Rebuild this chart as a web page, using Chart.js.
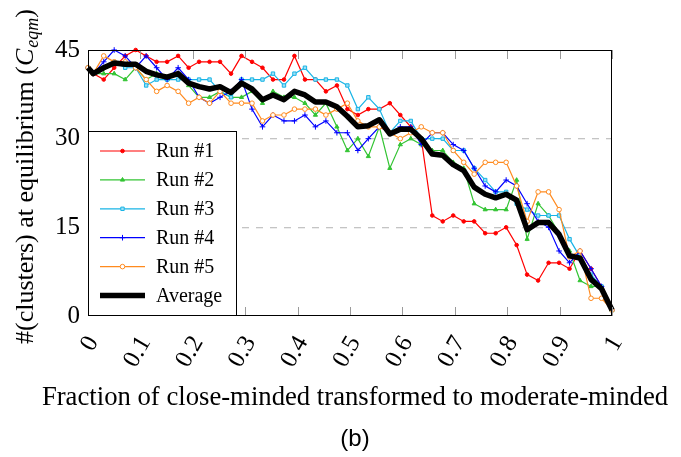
<!DOCTYPE html>
<html>
<head>
<meta charset="utf-8">
<script src="https://cdn.jsdelivr.net/npm/chart.js@4.4.1/dist/chart.umd.min.js"></script>
<style>
  html, body { margin: 0; padding: 0; background: #fff; }
  #wrap { width: 681px; height: 457px; }
</style>
</head>
<body>
<div id="wrap"><canvas id="chart" width="681" height="457"></canvas></div>
<script>
// x-positions of the runs (fraction transformed)
const xValues = [0, 0.010, 0.030, 0.050, 0.071, 0.091, 0.111, 0.131, 0.151, 0.172, 0.192,
  0.212, 0.232, 0.252, 0.273, 0.293, 0.313, 0.333, 0.353, 0.374, 0.394,
  0.414, 0.434, 0.454, 0.475, 0.495, 0.515, 0.535, 0.556, 0.576, 0.596,
  0.616, 0.636, 0.657, 0.677, 0.697, 0.717, 0.737, 0.758, 0.778, 0.798,
  0.818, 0.838, 0.859, 0.879, 0.899, 0.919, 0.939, 0.960, 0.980, 1.000];

const run1 = [42, 41, 40, 42, 44, 45, 44, 43, 43, 44, 42,
  43, 43, 43, 41, 44, 43, 42, 40, 40, 44,
  40, 40, 38, 39, 35, 34, 35, 35, 36, 34,
  32, 30, 17, 16, 17, 16, 16, 14, 14, 15,
  12, 7, 6, 9, 9, 8, 11, 8, 5, 1];
const run2 = [42, 41, 41, 41, 40, 42, 40, 41, 40, 41, 39,
  37, 37, 38, 37, 37, 38, 36, 38, 37, 37,
  36, 34, 36, 32, 28, 30, 27, 32, 25, 29,
  30, 29, 28, 28, 26, 25, 19, 18, 18, 18,
  23, 13, 19, 17, 14, 11, 6, 5, 5, 1];
const run3 = [42, 41, 42, 43, 42, 42, 39, 40, 40, 40, 40,
  40, 40, 38, 37, 40, 40, 40, 41, 39, 41,
  42, 40, 40, 40, 39, 35, 37, 35, 31, 33,
  33, 30, 30, 30, 28, 28, 25, 23, 21, 21,
  19, 18, 17, 17, 17, 13, 10, 7, 5, 1];
const run4 = [42, 41, 43, 45, 44, 42, 44, 42, 40, 42, 40,
  37, 36, 37, 38, 40, 35, 32, 34, 33, 33,
  34, 32, 33, 31, 31, 28, 30, 32, 31, 32,
  32, 29, 31, 31, 29, 28, 25, 22, 21, 23,
  22, 19, 16, 15, 11, 9, 11, 8, 5, 1];
const run5 = [42, 41, 44, 43, 43, 42, 40, 38, 39, 38, 36,
  37, 36, 38, 36, 36, 36, 33, 34, 34, 35,
  35, 35, 34, 35, 36, 33, 32, 32, 31, 30,
  31, 32, 31, 31, 28, 26, 24, 26, 26, 26,
  22, 16, 21, 21, 18, 10, 11, 3, 3, 1];
const average = [42, 41, 42, 42.8, 42.6, 42.6, 41.4, 40.8, 40.4, 41, 39.4,
  38.8, 38.4, 38.8, 37.8, 39.4, 38.4, 36.6, 37.4, 36.6, 38,
  37.4, 36.2, 36.2, 35.4, 33.8, 32, 32.2, 33.2, 30.8, 31.6,
  31.6, 30, 27.4, 27.2, 25.6, 24.6, 21.8, 20.6, 20, 20.6,
  19.6, 14.6, 15.8, 15.8, 13.8, 10.2, 9.8, 6.2, 4.6, 1];

const seriesLabels = ['Run #1', 'Run #2', 'Run #3', 'Run #4', 'Run #5', 'Average'];
const xTicks = [0, 0.1, 0.2, 0.3, 0.4, 0.5, 0.6, 0.7, 0.8, 0.9, 1];
const xTickLabels = ['0', '0.1', '0.2', '0.3', '0.4', '0.5', '0.6', '0.7', '0.8', '0.9', '1'];
const yTicks = [0, 15, 30, 45];
const yTickLabels = ['0', '15', '30', '45'];

const SERIF = "'Liberation Serif', 'DejaVu Serif', serif";

const toPoints = ys => ys.map((v, i) => ({ x: xValues[i], y: v }));

function runSet(i, data, color, style, fill, radius) {
  return {
    label: seriesLabels[i],
    data: toPoints(data),
    borderColor: color,
    backgroundColor: color,
    borderWidth: 1.2,
    pointStyle: style,
    pointRadius: radius,
    pointBorderWidth: 1,
    pointBorderColor: color,
    pointBackgroundColor: fill,
    tension: 0,
    clip: 6,
    order: 6 - i
  };
}

const datasets = [
  runSet(0, run1, '#ff0000', 'circle', '#ff0000', 1.8),
  runSet(1, run2, '#33c433', 'triangle', '#33c433', 2.4),
  runSet(2, run3, '#18b4e6', 'rect', '#9fe0f5', 2.4),
  runSet(3, run4, '#0000ff', 'cross', '#0000ff', 2.8),
  runSet(4, run5, '#ff8a1e', 'circle', '#ffffff', 2.3),
  {
    label: seriesLabels[5],
    data: toPoints(average),
    borderColor: '#000',
    backgroundColor: '#000',
    borderWidth: 5.5,
    borderJoinStyle: 'round',
    pointRadius: 0,
    tension: 0,
    clip: 6,
    order: 0
  }
];

// frame, inward ticks, legend box and axis titles
const overlay = {
  id: 'overlay',
  afterDatasetsDraw(chart) {
    const { ctx, chartArea: a, scales: { x } } = chart;
    ctx.save();
    ctx.strokeStyle = '#9a9a9a';
    ctx.lineWidth = 1;
    xTicks.forEach(v => {
      const px = Math.round(x.getPixelForValue(v)) + 0.5;
      ctx.beginPath();
      ctx.moveTo(px, a.bottom); ctx.lineTo(px, a.bottom - 9);
      ctx.moveTo(px, a.top); ctx.lineTo(px, a.top + 9);
      ctx.stroke();
    });
    ctx.strokeStyle = '#000';
    ctx.strokeRect(a.left + 0.5, a.top + 0.5, a.width - 1, a.height - 1);

    // legend
    const lx = a.left, ly = 131, lw = 148, lh = a.bottom - 131;
    ctx.fillStyle = '#fff';
    ctx.fillRect(lx, ly, lw, lh);
    ctx.strokeRect(lx + 0.5, ly + 0.5, lw, lh - 1);
    ctx.font = '20px ' + SERIF;
    ctx.textBaseline = 'middle';
    ctx.textAlign = 'left';
    chart.data.datasets.forEach((ds, i) => {
      const ry = ly + 20 + i * 28.9;
      ctx.strokeStyle = ds.borderColor;
      ctx.lineWidth = ds.borderWidth;
      ctx.beginPath();
      ctx.moveTo(lx + 12, ry); ctx.lineTo(lx + 57, ry);
      ctx.stroke();
      if (ds.pointRadius > 0) {
        ctx.fillStyle = ds.pointBackgroundColor;
        ctx.lineWidth = 1;
        Chart.helpers.drawPoint(ctx, { pointStyle: ds.pointStyle, radius: ds.pointRadius, borderWidth: 1, rotation: 0 }, lx + 34.5, ry);
      }
      ctx.fillStyle = '#000';
      ctx.fillText(ds.label, lx + 68, ry + 1);
    });
    ctx.restore();
  },
  afterDraw(chart) {
    const { ctx } = chart;
    ctx.save();
    ctx.fillStyle = '#000';
    ctx.textBaseline = 'alphabetic';
    ctx.textAlign = 'center';
    ctx.font = '26.7px ' + SERIF;
    ctx.fillText('Fraction of close-minded transformed to moderate-minded', 355, 405);
    ctx.font = "24px 'Liberation Sans', Arial, sans-serif";
    ctx.fillText('(b)', 355, 446);

    // y title with subscripted C_eqm
    const parts = [
      { t: '#(clusters) at equilibrium (', f: '26px ' + SERIF, dy: 0 },
      { t: 'C', f: 'italic 26px ' + SERIF, dy: 0 },
      { t: 'eqm', f: 'italic 18px ' + SERIF, dy: 5 },
      { t: ')', f: '26px ' + SERIF, dy: 0 }
    ];
    let total = 0;
    parts.forEach(p => { ctx.font = p.f; p.w = ctx.measureText(p.t).width; total += p.w; });
    ctx.translate(33, 177);
    ctx.rotate(-Math.PI / 2);
    ctx.textAlign = 'left';
    let cx = -total / 2;
    parts.forEach(p => {
      ctx.font = p.f;
      ctx.fillText(p.t, cx, p.dy);
      cx += p.w + (p.t === 'C' ? 1 : 0);
    });
    ctx.restore();
  }
};

new Chart(document.getElementById('chart'), {
  type: 'line',
  data: { datasets },
  options: {
    responsive: false,
    animation: false,
    layout: { padding: { left: 0, right: 69, top: 50, bottom: 0 } },
    plugins: { legend: { display: false }, tooltip: { enabled: false } },
    scales: {
      x: {
        type: 'linear',
        min: 0,
        max: 1,
        afterBuildTicks: s => { s.ticks = xTicks.map(v => ({ value: v })); },
        afterFit: s => { s.height = 141; },
        grid: { display: false, drawTicks: false },
        border: { display: false },
        ticks: {
          minRotation: 60,
          maxRotation: 60,
          autoSkip: false,
          padding: 15,
          labelOffset: 5,
          color: '#000',
          font: { family: SERIF, size: 25 },
          callback: (v, i) => xTickLabels[i]
        }
      },
      y: {
        min: 0,
        max: 45,
        afterBuildTicks: s => { s.ticks = yTicks.map(v => ({ value: v })); },
        afterFit: s => { s.width = 88; },
        grid: {
          drawTicks: false,
          lineWidth: 1.3,
          color: c => (c.tick && (c.tick.value === 15 || c.tick.value === 30)) ? '#c4c4c4' : 'rgba(0,0,0,0)'
        },
        border: { display: false, dash: [7, 7] },
        ticks: {
          padding: 8,
          color: '#000',
          font: { family: SERIF, size: 25 },
          callback: (v, i) => yTickLabels[i]
        }
      }
    }
  },
  plugins: [overlay]
});
</script>
</body>
</html>
